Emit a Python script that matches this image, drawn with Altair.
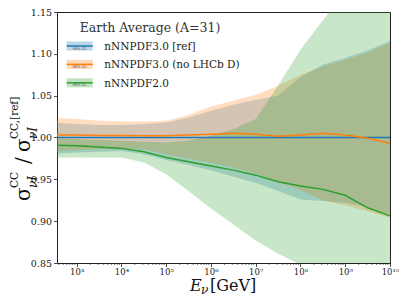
import altair as alt
import pandas as pd

# ---------------- data ----------------
logE = [2.56, 3.0, 3.5, 4.0, 4.5, 5.0, 5.5, 6.0, 6.5, 7.0, 7.5, 8.0, 8.5, 9.0, 9.5, 10.0]

ref_mid = [1.0, 1.0, 1.0, 1.0, 1.0, 1.0, 1.0, 1.0, 1.0, 1.0, 1.0, 1.0, 1.0, 1.0, 1.0, 1.0]
ref_hi = [1.0176, 1.016, 1.015, 1.015, 1.016, 1.018, 1.024, 1.032, 1.039, 1.045, 1.050, 1.072, 1.087, 1.095, 1.104, 1.115]
ref_lo = [0.981, 0.982, 0.983, 0.984, 0.980, 0.973, 0.967, 0.961, 0.953, 0.946, 0.936, 0.926, 0.924, 0.922, 0.917, 0.908]

nolhcb_mid = [1.003, 1.003, 1.0025, 1.0025, 1.002, 1.002, 1.003, 1.004, 1.005, 1.004, 1.0015, 1.003, 1.005, 1.003, 0.999, 0.993]
nolhcb_hi = [1.023, 1.022, 1.020, 1.019, 1.019, 1.020, 1.027, 1.037, 1.044, 1.051, 1.062, 1.075, 1.085, 1.093, 1.101, 1.113]
nolhcb_lo = [0.984, 0.985, 0.986, 0.987, 0.986, 0.980, 0.975, 0.970, 0.964, 0.957, 0.947, 0.937, 0.925, 0.919, 0.912, 0.904]

n20_mid = [0.9907, 0.990, 0.9885, 0.987, 0.983, 0.976, 0.971, 0.966, 0.961, 0.955, 0.947, 0.942, 0.938, 0.931, 0.916, 0.9065]
n20_hi = [0.999, 0.998, 0.997, 0.996, 0.995, 0.994, 0.996, 1.002, 1.010, 1.022, 1.062, 1.105, 1.140, 1.175, 1.210, 1.240]
n20_lo = [0.976, 0.976, 0.976, 0.976, 0.970, 0.956, 0.936, 0.915, 0.896, 0.877, 0.861, 0.848, 0.835, 0.825, 0.815, 0.805]

series = ["nNNPDF3.0 [ref]", "nNNPDF3.0 (no LHCb D)", "nNNPDF2.0"]
colors = ["#1f77b4", "#ff7f0e", "#2ca02c"]
legend_title = "Earth Average (A=31)"

y_ticks = [0.85, 0.90, 0.95, 1.00, 1.05, 1.10, 1.15]
x_major = [1e3, 1e4, 1e5, 1e6, 1e7, 1e8, 1e9, 1e10]
x_minor = [m * 10 ** d for d in range(2, 10) for m in range(2, 10) if m * 10 ** d >= 10 ** 2.56]

# ---------------- build table ----------------
sets = [
    (series[0], ref_lo, ref_mid, ref_hi),
    (series[1], nolhcb_lo, nolhcb_mid, nolhcb_hi),
    (series[2], n20_lo, n20_mid, n20_hi),
]
rows = []
for name, lo, mid, hi in sets:
    for L, a, b, c in zip(logE, lo, mid, hi):
        rows.append(dict(set=name, E=10 ** L, lo=a, mid=b, hi=c))
df = pd.DataFrame(rows)

FONT = "DejaVu Serif"
W, H = 333, 251

xscale = alt.Scale(type="log", domain=[10 ** 2.56, 1e10], nice=False)
yscale = alt.Scale(domain=[0.85, 1.15], nice=False, zero=False)

sup = "['⁰','¹','²','³','⁴','⁵','⁶','⁷','⁸','⁹','¹⁰']"
xaxis = alt.Axis(values=x_major, labelExpr="'10' + " + sup + "[round(log(datum.value)/LN10)]",
                 title=None, tickSize=3.5, tickColor="#222", tickWidth=0.8,
                 labelFont=FONT, labelFontSize=8.5, labelColor="#222", labelPadding=1,
                 labelFlush=False, labelOverlap=False, domain=False, grid=False)
yaxis = alt.Axis(values=y_ticks, format=".2f", title=None, tickSize=3.5, tickColor="#222",
                 tickWidth=0.8, labelFont=FONT, labelFontSize=9.5, labelColor="#222",
                 labelPadding=2, labelFlush=False, domain=False, grid=False)

layers = []
for name, col in zip(series, colors):
    layers.append(
        alt.Chart(df[df.set == name]).mark_area(color=col, opacity=0.26, clip=True).encode(
            x=alt.X("E:Q", scale=xscale, axis=xaxis),
            y=alt.Y("lo:Q", scale=yscale, axis=yaxis),
            y2="hi:Q",
        )
    )
for name, col in zip(series, colors):
    layers.append(
        alt.Chart(df[df.set == name]).mark_line(color=col, strokeWidth=1.5, clip=True).encode(
            x=alt.X("E:Q", scale=xscale, axis=xaxis),
            y=alt.Y("mid:Q", scale=yscale, axis=yaxis),
        )
    )

# minor ticks on the log axis
minor_df = pd.DataFrame({"E": x_minor})
layers.append(
    alt.Chart(minor_df).mark_rule(color="#222", strokeWidth=0.6).encode(
        x=alt.X("E:Q", scale=xscale, axis=xaxis),
        y=alt.value(H), y2=alt.value(H + 2),
    )
)


def txt(s, x, y, size, angle=0, align="left", baseline="alphabetic", style="normal", color="#111"):
    kw = dict(font=FONT, fontSize=size, align=align, baseline=baseline, fontStyle=style, color=color)
    if angle:
        kw["angle"] = angle
    return alt.Chart(pd.DataFrame({"t": [s]})).mark_text(**kw).encode(
        x=alt.value(x), y=alt.value(y), text="t:N")


# legend
layers.append(txt(legend_title, 93, 19.5, 12.5, align="center", color="#333"))
for i, (name, col) in enumerate(zip(series, colors)):
    yc = 34 + 18.4 * i
    one = pd.DataFrame({"a": [0]})
    layers.append(alt.Chart(one).mark_rect(color=col, opacity=0.3).encode(
        x=alt.value(9.7), x2=alt.value(35.7), y=alt.value(yc - 4.5), y2=alt.value(yc + 4.5)))
    layers.append(alt.Chart(one).mark_rule(color=col, strokeWidth=1.5).encode(
        x=alt.value(9.7), x2=alt.value(35.7), y=alt.value(yc)))
    layers.append(txt("68% CL", 22.7, yc + 3.6, 3.5, align="center", color="#444"))
    layers.append(txt(name, 47.3, yc + 4, 10.5, color="#222"))

# y title: sigma^CC_{nu I} / sigma^{CC,[ref]}_{nu I}
layers.append(txt("σ", -27, 189, 20, angle=270))
layers.append(txt("CC", -39, 176, 10.5, angle=270))
layers.append(txt("νI", -20, 176, 12, angle=270, style="italic"))
layers.append(txt("/", -27, 152, 20, angle=270))
layers.append(txt("σ", -27, 140, 20, angle=270))
layers.append(txt("CC,[ref]", -39, 127, 10.5, angle=270))
layers.append(txt("νI", -20, 127, 12, angle=270, style="italic"))

# x title: E_nu [GeV]
layers.append(txt("E", 133, 279, 16, style="italic"))
layers.append(txt("ν", 144, 282, 12, style="italic"))
layers.append(txt("[GeV]", 153, 279, 16))

chart = alt.layer(*layers).properties(
    width=W, height=H,
    autosize=alt.AutoSizeParams(type="none"),
    padding={"left": 49, "top": 4, "right": 9, "bottom": 33},
).configure_view(stroke="#222", strokeWidth=1)

chart.save("out.html", embed_options={"renderer": "svg", "actions": False})
